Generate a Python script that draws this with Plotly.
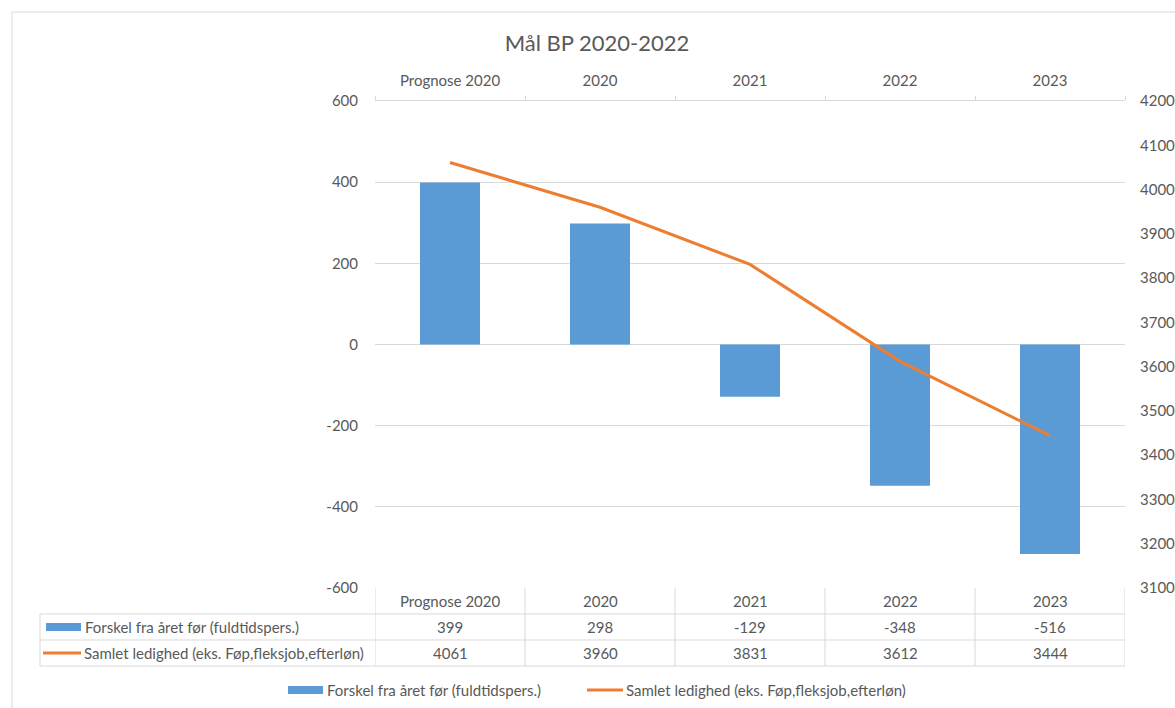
import plotly.graph_objects as go

categories = ["Prognose 2020", "2020", "2021", "2022", "2023"]
forskel = [399, 298, -129, -348, -516]
ledighed = [4061, 3960, 3831, 3612, 3444]
series_names = ["Forskel fra året før (fuldtidspers.)",
                "Samlet ledighed (eks. Føp,fleksjob,efterløn)"]
title_text = "Mål BP 2020-2022"
left_ticks = [-600, -400, -200, 0, 200, 400, 600]
right_ticks = [3100, 3200, 3300, 3400, 3500, 3600, 3700, 3800, 3900, 4000, 4100, 4200]

W, H = 1175, 708
BLUE = "#5B9BD5"
ORANGE = "#ED7D31"
GRID = "#D9D9D9"
TXT = "#595959"
FONT = "Lato"
FS = 15


def px(x):
    return x / W


def py(y):
    return 1 - y / H


xs = list(range(len(categories)))

fig = go.Figure()
fig.add_trace(go.Bar(x=xs, y=forskel, width=0.4, marker=dict(color=BLUE, line=dict(width=0)),
                     name=series_names[0], yaxis="y", xaxis="x"))
fig.add_trace(go.Scatter(x=xs, y=ledighed, mode="lines", line=dict(color=ORANGE, width=3),
                         name=series_names[1], yaxis="y2", xaxis="x"))

plot_left, plot_right, plot_top, plot_bottom = 375, 1125, 101, 588

fig.update_layout(
    width=W, height=H,
    margin=dict(l=0, r=0, t=0, b=0, pad=0, autoexpand=False),
    paper_bgcolor="white", plot_bgcolor="white",
    showlegend=False,
    font=dict(family=FONT, size=FS, color=TXT),
    title=dict(text=title_text, x=px(597), xanchor="center", y=py(43), yanchor="middle",
               font=dict(family=FONT, size=22, color=TXT)),
    xaxis=dict(domain=[px(plot_left), px(plot_right)], range=[-0.5, len(categories) - 0.5],
               side="top", tickvals=xs, ticktext=categories, ticks="", showgrid=False,
               zeroline=False, showline=True, linecolor=GRID, linewidth=1, automargin=False,
               tickfont=dict(family=FONT, size=FS, color=TXT), ticklabelstandoff=8,
               minor=dict(tickvals=[i - 0.5 for i in range(len(categories) + 1)],
                          ticks="outside", ticklen=4, tickcolor=GRID, showgrid=False),
               fixedrange=True),
    yaxis=dict(domain=[py(plot_bottom), py(plot_top)], range=[-600, 600],
               tickvals=left_ticks, ticktext=[str(v) for v in left_ticks],
               showgrid=True, gridcolor=GRID, gridwidth=1, zeroline=False, automargin=False,
               showline=False, ticks="", tickfont=dict(family=FONT, size=FS, color=TXT),
               ticklabelstandoff=16, anchor="x"),
    yaxis2=dict(overlaying="y", side="right", range=[3100, 4200],
                tickvals=right_ticks, ticktext=[str(v) for v in right_ticks],
                showgrid=False, zeroline=False, showline=False, ticks="", automargin=False,
                tickfont=dict(family=FONT, size=FS, color=TXT), ticklabelstandoff=14,
                anchor="x"),
)

shapes = []
# chart border
shapes.append(dict(type="line", xref="paper", yref="paper", x0=px(12), x1=1, y0=py(12), y1=py(12),
                   line=dict(color=GRID, width=1)))
shapes.append(dict(type="line", xref="paper", yref="paper", x0=px(12), x1=px(12), y0=py(12), y1=0,
                   line=dict(color=GRID, width=1)))

# data table lines
row_lines = [614, 640, 666]
table_left = 40
for yl in row_lines:
    shapes.append(dict(type="line", xref="paper", yref="paper", x0=px(table_left), x1=px(plot_right),
                       y0=py(yl), y1=py(yl), line=dict(color=GRID, width=1)))
for i in range(len(categories) + 1):
    shapes.append(dict(type="line", xref="x", yref="paper", x0=i - 0.5, x1=i - 0.5,
                       y0=py(588), y1=py(666), line=dict(color=GRID, width=1)))
shapes.append(dict(type="line", xref="paper", yref="paper", x0=px(table_left), x1=px(table_left),
                   y0=py(614), y1=py(666), line=dict(color=GRID, width=1)))

# table legend keys
shapes.append(dict(type="rect", xref="paper", yref="paper", x0=px(46), x1=px(81),
                   y0=py(631), y1=py(623), fillcolor=BLUE, line=dict(width=0)))
shapes.append(dict(type="line", xref="paper", yref="paper", x0=px(43), x1=px(81),
                   y0=py(653), y1=py(653), line=dict(color=ORANGE, width=3)))

# bottom legend keys
shapes.append(dict(type="rect", xref="paper", yref="paper", x0=px(288), x1=px(323),
                   y0=py(694), y1=py(686), fillcolor=BLUE, line=dict(width=0)))
shapes.append(dict(type="line", xref="paper", yref="paper", x0=px(587), x1=px(623),
                   y0=py(690), y1=py(690), line=dict(color=ORANGE, width=3)))

annotations = []
tf = dict(family=FONT, size=FS, color=TXT)
for i, c in enumerate(categories):
    annotations.append(dict(x=i, xref="x", y=py(601), yref="paper", text=c, showarrow=False,
                            xanchor="center", yanchor="middle", font=tf))
for i, v in enumerate(forskel):
    annotations.append(dict(x=i, xref="x", y=py(627), yref="paper", text=str(v), showarrow=False,
                            xanchor="center", yanchor="middle", font=tf))
for i, v in enumerate(ledighed):
    annotations.append(dict(x=i, xref="x", y=py(653), yref="paper", text=str(v), showarrow=False,
                            xanchor="center", yanchor="middle", font=tf))
annotations.append(dict(x=px(83), xref="paper", y=py(627), yref="paper", text=series_names[0],
                        showarrow=False, xanchor="left", yanchor="middle", font=tf))
annotations.append(dict(x=px(82), xref="paper", y=py(653), yref="paper", text=series_names[1],
                        showarrow=False, xanchor="left", yanchor="middle", font=tf))
annotations.append(dict(x=px(325), xref="paper", y=py(690), yref="paper", text=series_names[0],
                        showarrow=False, xanchor="left", yanchor="middle", font=tf))
annotations.append(dict(x=px(624), xref="paper", y=py(690), yref="paper", text=series_names[1],
                        showarrow=False, xanchor="left", yanchor="middle", font=tf))

fig.update_layout(shapes=shapes, annotations=annotations)
fig.write_html("out.html", config={"displayModeBar": False},
               post_script="document.body.style.margin='0';document.body.style.overflow='hidden';")
